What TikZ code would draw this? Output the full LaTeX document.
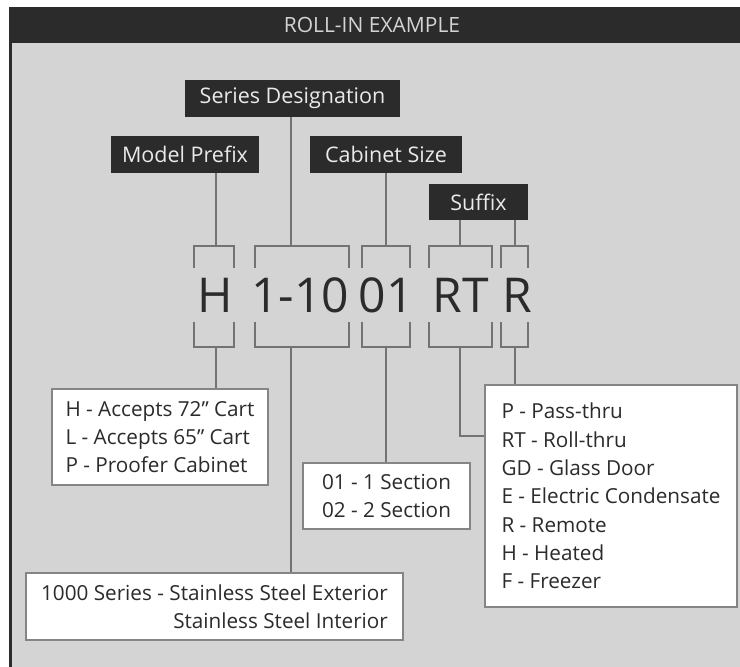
\documentclass[tikz,border=0pt]{standalone}
\usepackage{fontspec}
\setmainfont{Open Sans}
\definecolor{panel}{HTML}{D4D4D4}
\definecolor{ink}{HTML}{2B2B2B}
\definecolor{wirecol}{HTML}{737373}
\definecolor{framecol}{HTML}{858585}
\begin{document}
\begin{tikzpicture}[x=1pt,y=-1pt,
  tag/.style={fill=ink,text=panel!50!white,font=\fontsize{21.5}{24}\selectfont,inner sep=0pt},
  listbox/.style={draw=framecol,line width=1.5pt,fill=white,text=ink,inner sep=0pt,font=\fontsize{20.7}{28.3}\selectfont},
  wire/.style={draw=wirecol,line width=1.5pt},
  code/.style={text=ink,font=\fontsize{48}{48}\selectfont,inner sep=0pt}]
\useasboundingbox (0,0) rectangle (740,667);
\fill[white] (0,0) rectangle (740,667);
\fill[panel] (12,43) rectangle (740,667);
\fill[ink] (9,7) rectangle (740,43);
\fill[ink] (9,7) rectangle (12,667);
\node[text=panel,font=\fontsize{21}{22}\selectfont,inner sep=0pt] (title) at (372,25) {ROLL-IN EXAMPLE};

% name tags
\node[tag,minimum width=215,minimum height=37] (series) at (292.5,98.5) {Series Designation};
\node[tag,minimum width=148,minimum height=37] (prefix) at (185,154.5) {Model Prefix};
\node[tag,minimum width=152,minimum height=37] (size) at (386,154.5) {Cabinet Size};
\node[tag,minimum width=99,minimum height=36] (suffix) at (478.5,202) {Suffix};

% brackets round the code
\foreach \l/\r/\s/\n in {194/234/216/h, 255/349/291/ser, 362/410/386/cab, 429/492/460/rt, 501/528/515/r}{
  \draw[wire] (\l,268) -- (\l,246) -- (\r,246) -- (\r,268);
  \draw[wire] (\l,322) -- (\l,347) -- (\r,347) -- (\r,322);
  \coordinate (\n-top) at (\s,246);
  \coordinate (\n-bot) at (\s,347);
}

\node[code] (hcode) at (215,295) {H};
\node[code] (sercode) at (300,295) {1-10};
\node[code] (cabcode) at (386,295) {01};
\node[code] (rtcode) at (461,295) {RT};
\node[code] (rcode) at (517,295) {R};

% lists
\node[listbox,minimum width=216,minimum height=96,align=left] (prefixlist) at (160,437)
  {H - Accepts 72” Cart\\L - Accepts 65” Cart\\P - Proofer Cabinet};
\node[listbox,minimum width=167,minimum height=66,align=center] (sizelist) at (386.5,496)
  {01 - 1 Section\\02 - 2 Section};
\node[listbox,minimum width=252,minimum height=222,align=left] (suffixlist) at (611,496)
  {P - Pass-thru\\RT - Roll-thru\\GD - Glass Door\\E - Electric Condensate\\R - Remote\\H - Heated\\F - Freezer};
\node[listbox,minimum width=377,minimum height=67,align=right] (serieslist) at (214.5,606.5)
  {1000 Series - Stainless Steel Exterior\\Stainless Steel Interior};

\draw[wire] (prefix.south -| h-top) -- (h-top);
\draw[wire] (series.south -| ser-top) -- (ser-top);
\draw[wire] (size.south -| cab-top) -- (cab-top);
\draw[wire] (suffix.south -| rt-top) -- (rt-top);
\draw[wire] (suffix.south -| r-top) -- (r-top);

\draw[wire] (h-bot) -- (h-bot |- prefixlist.north);
\draw[wire] (ser-bot) -- (ser-bot |- serieslist.north);
\draw[wire] (cab-bot) -- (cab-bot |- sizelist.north);
\coordinate (rtturn) at (460,436);
\draw[wire] (rt-bot) -- (rtturn) -- (rtturn -| suffixlist.west);
\draw[wire] (r-bot) -- (r-bot |- suffixlist.north);
\end{tikzpicture}
\end{document}
